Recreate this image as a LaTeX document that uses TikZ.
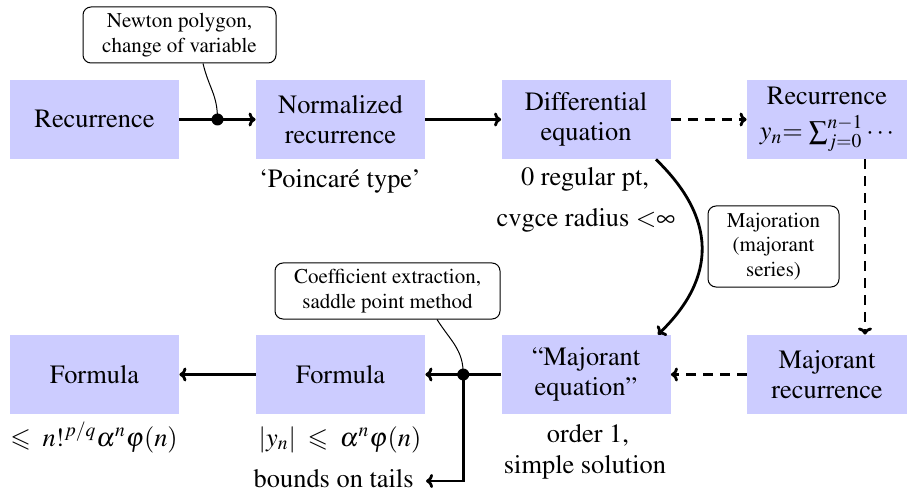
\documentclass[tikz,border=0pt]{standalone}
\usepackage[T1]{fontenc}
\usepackage{mathptmx}
\usepackage{amssymb}
\usetikzlibrary{arrows.meta,calc}
\begin{document}
\begin{tikzpicture}[x=0.5pt,y=-0.5pt,
  box/.style={fill=blue!20, minimum width=84.5pt, minimum height=39.5pt, inner sep=0pt, align=center, font=\fontsize{13.2}{15}\selectfont},
  rbox/.style={box, minimum width=80pt},
  note/.style={draw, line width=0.5pt, rounded corners=4pt, align=center, inner sep=0pt, font=\fontsize{10.5}{12.5}\selectfont},
  lab/.style={inner sep=0pt, anchor=base, font=\fontsize{13.2}{15}\selectfont},
  arr/.style={line width=1.4pt, -{To[length=3.5pt,width=7pt]}},
  darr/.style={arr, dash pattern=on 5pt off 3.5pt},
  thinline/.style={line width=0.5pt},
  dot/.style={circle, fill, inner sep=0pt, minimum size=6pt}
]
\useasboundingbox (0,0) rectangle (913,491);

% top row
\node[box] (rec1) at (94.5,119.5) {Recurrence};
\node[box] (norm) at (340.5,119.5) {Normalized\\recurrence};
\node[box] (diff) at (586,119.5) {Differential\\equation};
\node[rbox] (rec2) at (827,119.5) {Recurrence\\[2.5pt]$y_n{=}\,\sum_{j=0}^{n-1}\cdots$};

% bottom row
\node[box] (form1) at (94.5,374.5) {Formula};
\node[box] (form2) at (340.5,374.5) {Formula};
\node[box] (majeq) at (586,374.5) {``Majorant\\equation''};
\node[rbox] (majrec) at (827,374.5) {Majorant\\recurrence};

% labels under boxes
\node[lab] (poin) at (340,187.5) {`Poincar\'e type'};
\node[lab] (reg1) at (585,186) {0 regular pt,};
\node[lab] (reg2) at (586,227) {cvgce radius $\mathord{<}\infty$};
\node[lab] (ord1) at (588,442) {order 1,};
\node[lab] (ord2) at (585,473) {simple solution};
\node[lab] (bnd1) at (340,446) {$|y_n|\;\leqslant\;\alpha^n\varphi(n)$};
\node[lab] (bnd2) at (94,446) {$\leqslant\; n!^{p/q}\alpha^n\varphi(n)$};
\node[lab, anchor=base east] (tails) at (414,487) {bounds on tails};
\coordinate (tailend) at (426,481);

% callouts
\node[note, minimum width=96.5pt, minimum height=28pt] (newton) at (179.5,35) {Newton polygon,\\change of variable};
\node[note, minimum width=65.5pt, minimum height=40.5pt, font=\fontsize{10.5}{12.2}\selectfont] (majo) at (773.5,246.5) {Majoration\\(majorant\\series)};
\node[note, minimum width=112.5pt, minimum height=28pt] (coef) at (387.5,291) {Coefficient extraction,\\saddle point method};

% top row arrows
\draw[arr] (rec1) -- (norm);
\node[dot] (d1) at ($(rec1.east)!0.5!(norm.west)$) {};
\draw[arr] (norm) -- (diff);
\draw[darr] (diff) -- (rec2);

% right vertical
\draw[darr] ([xshift=19pt]rec2.south) -- ([xshift=19pt]majrec.north);

% bottom row arrows
\draw[darr] (majrec) -- (majeq);
\draw[arr] (majeq) -- (form2);
\node[dot] (d2) at ($(majeq.west)!0.5!(form2.east)$) {};
\draw[arr] (form2) -- (form1);
\draw[arr] (d2.center) |- (tailend);

% curved arrow
\draw[arr] ([xshift=-7.5pt]diff.south east) .. controls +(60,58) and +(60,-58) .. ([xshift=-6.5pt]majeq.north east);

% callout connectors
\draw[thinline] ([xshift=11.75pt]newton.south) .. controls +(6,25) and +(0,-25) .. (d1.center);
\draw[thinline] ([xshift=24.75pt]coef.south) .. controls +(14,22) and +(0,-25) .. (d2.center);
\end{tikzpicture}
\end{document}
